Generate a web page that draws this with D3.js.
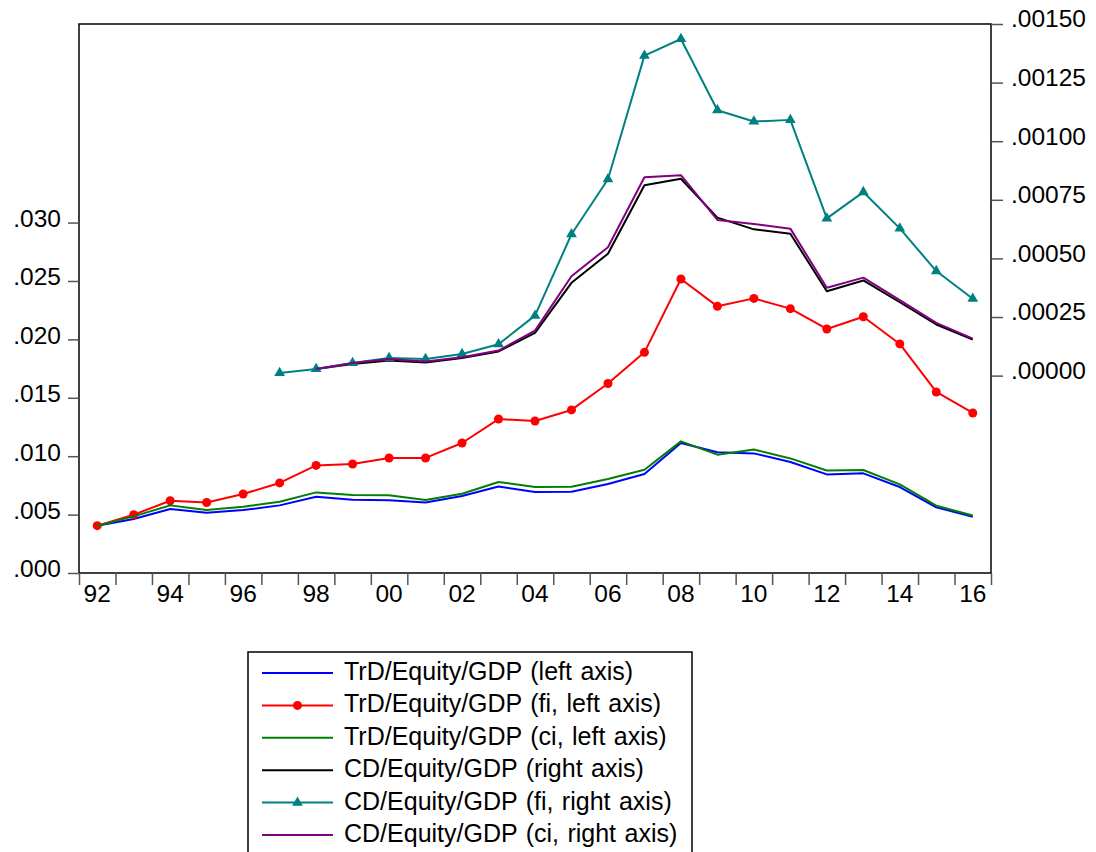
<!DOCTYPE html>
<html>
<head>
<meta charset="utf-8">
<script src="https://cdn.jsdelivr.net/npm/d3@7"></script>
<style>
  html, body { margin: 0; padding: 0; background: #fff; }
  svg { display: block; }
  text { font-family: "Liberation Sans", Arial, sans-serif; fill: #000; }
</style>
</head>
<body>
<svg id="chart" width="1096" height="852"></svg>
<script>
// Years on the horizontal axis
const years = d3.range(1992, 2017);
const cdYears = d3.range(1998, 2017);
const cdFiYears = d3.range(1997, 2017);

// Left-axis series (1992–2016)
const trdEquityGdp = [0.00405, 0.00462, 0.00548, 0.00516, 0.00539, 0.00579, 0.00653, 0.00628, 0.00622, 0.00604,
  0.00659, 0.00741, 0.00693, 0.00696, 0.00762, 0.00848, 0.01113, 0.01033, 0.01024, 0.00950,
  0.00844, 0.00853, 0.00736, 0.00562, 0.00482];
const trdEquityGdpFi = [0.00405, 0.00499, 0.00619, 0.00604, 0.00676, 0.00771, 0.00921, 0.00933, 0.00985, 0.00985,
  0.01113, 0.01318, 0.01301, 0.01396, 0.01622, 0.01889, 0.02517, 0.02283, 0.02351, 0.02263,
  0.02089, 0.02194, 0.01961, 0.01550, 0.01370];
const trdEquityGdpCi = [0.00405, 0.00485, 0.00579, 0.00539, 0.00568, 0.00610, 0.00690, 0.00668, 0.00665, 0.00625,
  0.00679, 0.00779, 0.00736, 0.00739, 0.00805, 0.00884, 0.01127, 0.01013, 0.01058, 0.00981,
  0.00878, 0.00882, 0.00759, 0.00576, 0.00493];

// Right-axis series
const cdEquityGdp = [0.0000285, 0.0000500, 0.0000641, 0.0000556, 0.0000755, 0.000103, 0.000182, 0.000396,
  0.000520, 0.000812, 0.000840, 0.000674, 0.000624, 0.000605, 0.000360, 0.000406, 0.000313, 0.000218, 0.000154];
const cdEquityGdpFi = [0.0000115, 0.0000285, 0.0000541, 0.0000755, 0.0000712, 0.0000926, 0.000134, 0.000256, 0.000603,
  0.000838, 0.001365, 0.001436, 0.001132, 0.001084, 0.001091, 0.000671, 0.000783, 0.000628, 0.000446, 0.000328];
const cdEquityGdpCi = [0.0000285, 0.0000541, 0.0000712, 0.0000598, 0.0000783, 0.000107, 0.000192, 0.000424,
  0.000548, 0.000846, 0.000855, 0.000664, 0.000647, 0.000627, 0.000375, 0.000418, 0.000322, 0.000225, 0.000158];

// Tick values and labels
const leftTicks = [0, 0.005, 0.010, 0.015, 0.020, 0.025, 0.030];
const leftTickLabels = [".000", ".005", ".010", ".015", ".020", ".025", ".030"];
const rightTicks = [0, 0.00025, 0.0005, 0.00075, 0.001, 0.00125, 0.0015];
const rightTickLabels = [".00000", ".00025", ".00050", ".00075", ".00100", ".00125", ".00150"];
const yearLabelYears = d3.range(1992, 2017, 2);

const legendLabels = [
  "TrD/Equity/GDP (left axis)",
  "TrD/Equity/GDP (fi, left axis)",
  "TrD/Equity/GDP (ci, left axis)",
  "CD/Equity/GDP (right axis)",
  "CD/Equity/GDP (fi, right axis)",
  "CD/Equity/GDP (ci, right axis)"
];

const svg = d3.select("#chart");
const plot = { left: 79, right: 991, top: 24, bottom: 573 };
const axisFont = 24.5;

const x = d3.scaleLinear().domain([1991.5, 2016.5]).range([plot.left, plot.right]);
const yL = d3.scaleLinear().domain([0, 0.047]).range([plot.bottom, plot.top]);
const yR = d3.scaleLinear().domain([-0.000842, 0.0015]).range([plot.bottom, plot.top]);

const series = [
  { yrs: years, vals: trdEquityGdp, scale: yL, color: "#0000ff", marker: null },
  { yrs: years, vals: trdEquityGdpFi, scale: yL, color: "#ff0000", marker: "circle" },
  { yrs: years, vals: trdEquityGdpCi, scale: yL, color: "#008000", marker: null },
  { yrs: cdYears, vals: cdEquityGdp, scale: yR, color: "#000000", marker: null },
  { yrs: cdFiYears, vals: cdEquityGdpFi, scale: yR, color: "#008080", marker: "triangle" },
  { yrs: cdYears, vals: cdEquityGdpCi, scale: yR, color: "#800080", marker: null }
];

// Frame
svg.append("rect")
  .attr("x", plot.left).attr("y", plot.top)
  .attr("width", plot.right - plot.left).attr("height", plot.bottom - plot.top)
  .attr("fill", "none").attr("stroke", "#000").attr("stroke-width", 1.5);

// Left axis (labels sit slightly above their tick marks)
const leftAxis = d3.axisLeft(yL).tickValues(leftTicks)
  .tickFormat((d, i) => leftTickLabels[i]).tickSize(11).tickPadding(7);
const gL = svg.append("g").attr("transform", `translate(${plot.left},0)`).call(leftAxis);
gL.select(".domain").remove();
gL.selectAll(".tick line").attr("stroke", "#555").attr("stroke-width", 1.5);
gL.selectAll(".tick text").attr("font-size", axisFont).attr("y", -4)
  .attr("font-family", "Liberation Sans, Arial, sans-serif");

// Right axis
const rightAxis = d3.axisRight(yR).tickValues(rightTicks)
  .tickFormat((d, i) => rightTickLabels[i]).tickSize(12).tickPadding(8);
const gR = svg.append("g").attr("transform", `translate(${plot.right},0)`).call(rightAxis);
gR.select(".domain").remove();
gR.selectAll(".tick line").attr("stroke", "#555").attr("stroke-width", 1.5);
gR.selectAll(".tick text").attr("font-size", axisFont).attr("y", -5)
  .attr("font-family", "Liberation Sans, Arial, sans-serif");

// Bottom axis: tick marks at year boundaries, labels centred on every other year
const boundaries = d3.range(1991.5, 2017, 1);
const bottomAxis = d3.axisBottom(x).tickValues(boundaries).tickFormat("").tickSize(12);
const gB = svg.append("g").attr("transform", `translate(0,${plot.bottom})`).call(bottomAxis);
gB.select(".domain").remove();
gB.selectAll(".tick line").attr("stroke", "#555").attr("stroke-width", 1.5);
svg.append("g").selectAll("text").data(yearLabelYears).join("text")
  .attr("x", d => x(d)).attr("y", plot.bottom + 29)
  .attr("text-anchor", "middle").attr("font-size", axisFont)
  .text(d => String(d % 100).padStart(2, "0"));

// Series lines and markers
const triangle = d3.symbol().type(d3.symbolTriangle).size(50);
series.forEach(s => {
  const pts = s.yrs.map((yr, i) => [x(yr), s.scale(s.vals[i])]);
  svg.append("path")
    .attr("d", d3.line()(pts))
    .attr("fill", "none").attr("stroke", s.color).attr("stroke-width", 2)
    .attr("stroke-linejoin", "round");
  if (s.marker === "circle") {
    svg.append("g").selectAll("circle").data(pts).join("circle")
      .attr("cx", d => d[0]).attr("cy", d => d[1]).attr("r", 4.5).attr("fill", s.color);
  } else if (s.marker === "triangle") {
    svg.append("g").selectAll("path").data(pts).join("path")
      .attr("d", triangle).attr("transform", d => `translate(${d[0]},${d[1]})`).attr("fill", s.color);
  }
});

// Legend
const legend = { left: 248, top: 652, width: 444, rowStart: 673, rowStep: 32.4 };
svg.append("rect")
  .attr("x", legend.left).attr("y", legend.top)
  .attr("width", legend.width).attr("height", 852 - legend.top + 5)
  .attr("fill", "#fff").attr("stroke", "#000").attr("stroke-width", 1.5);
series.forEach((s, i) => {
  const cy = legend.rowStart + i * legend.rowStep;
  svg.append("line")
    .attr("x1", 262).attr("x2", 333).attr("y1", cy).attr("y2", cy)
    .attr("stroke", s.color).attr("stroke-width", 2);
  if (s.marker === "circle") {
    svg.append("circle").attr("cx", 297.5).attr("cy", cy).attr("r", 4.5).attr("fill", s.color);
  } else if (s.marker === "triangle") {
    svg.append("path").attr("d", triangle).attr("transform", `translate(297.5,${cy})`).attr("fill", s.color);
  }
  svg.append("text")
    .attr("x", 344).attr("y", cy + 7)
    .attr("font-size", 25).attr("word-spacing", 1.5)
    .text(legendLabels[i]);
});
</script>
</body>
</html>
